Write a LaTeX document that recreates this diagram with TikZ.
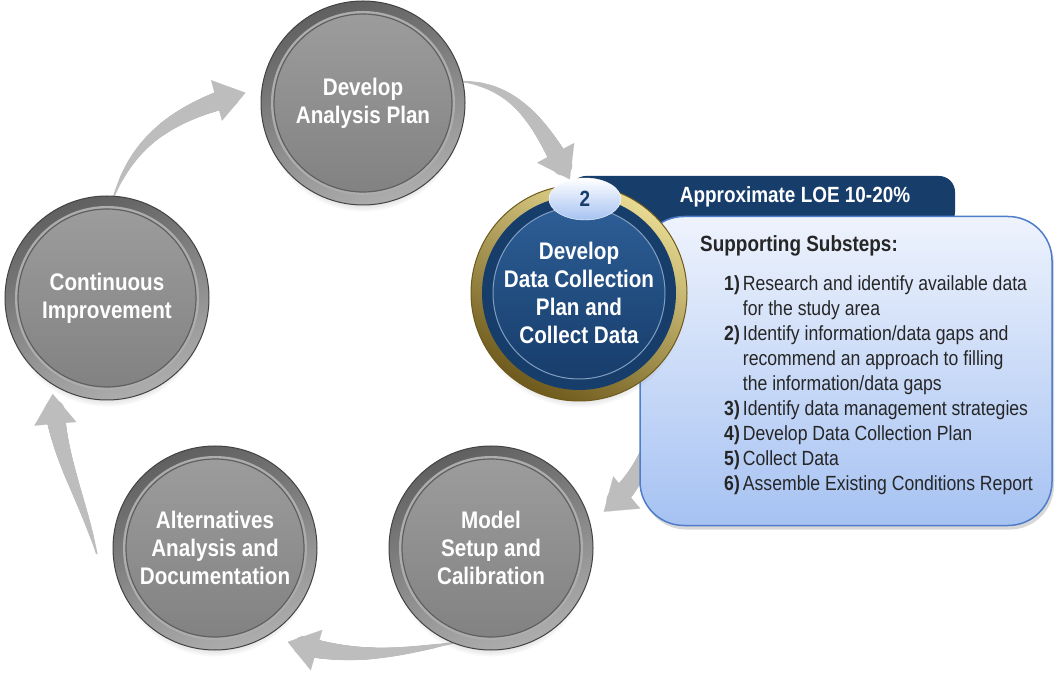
\documentclass[tikz,border=0pt]{standalone}
\usepackage{fontspec}
\newfontfamily\narrowsf[FakeStretch=0.86]{Liberation Sans}
\usetikzlibrary{arrows.meta,shadows,fadings,shapes.geometric,decorations.markings,backgrounds}
\definecolor{navy}{HTML}{173D6B}
\definecolor{navylite}{HTML}{2D5E96}
\definecolor{ringdark}{HTML}{606060}
\definecolor{ringlite}{HTML}{ADADAD}
\definecolor{diskhi}{HTML}{9C9C9C}
\definecolor{disklo}{HTML}{828282}
\definecolor{golddark}{HTML}{6E5A1C}
\definecolor{goldlite}{HTML}{E8DA92}
\definecolor{boxtop}{HTML}{EEF3FD}
\definecolor{boxbot}{HTML}{A6C2F2}
\definecolor{boxline}{HTML}{4F7DC9}
\definecolor{arrowgray}{HTML}{BDBDBD}
\tikzset{
  coin/.style={circle,minimum size=204pt,inner sep=0pt,align=center,text=white,
    font=\narrowsf\bfseries\fontsize{24}{28}\selectfont,
    top color=ringdark,bottom color=ringlite,shading angle=20,draw=ringdark!70!black,line width=1pt,
    circular drop shadow={shadow xshift=0pt,shadow yshift=-10pt,opacity=.45,shadow scale=.97},
    path picture={
      \fill[ringlite] (path picture bounding box.center) circle (92pt);
      \shade[top color=diskhi,bottom color=disklo] (path picture bounding box.center) circle (89pt);
      \draw[ringdark,line width=1.2pt] (path picture bounding box.center) circle (89pt);}},
  goldcoin/.style={coin,minimum size=216pt,top color=goldlite,bottom color=golddark,shading angle=-30,draw=golddark,
    path picture={
      \fill[navy] (path picture bounding box.center) circle (97pt);
      \shade[top color=navylite,bottom color=navy] (path picture bounding box.center) circle (86pt);
      \draw[navylite!60!white,line width=1pt] (path picture bounding box.center) circle (86pt);}},
  numoval/.style={ellipse,minimum width=72pt,minimum height=42pt,inner sep=0pt,top color=white,bottom color=boxbot,
    draw=white,text=navy,font=\narrowsf\bfseries\fontsize{22}{22}\selectfont},
  lobox/.style={rounded corners=44pt,top color=boxtop,bottom color=boxbot,draw=boxline,line width=1.5pt,
    minimum width=412pt,minimum height=309pt,drop shadow={shadow xshift=2pt,shadow yshift=-4pt,opacity=.3}},
  taper/.style={draw=arrowgray,line width=.1pt,-{Triangle[width=42pt,length=30pt,fill=arrowgray]},
    postaction={decorate,decoration={markings,
    mark=between positions 0 and .9 step 1pt with {\fill[arrowgray] (0,0) circle
      ({(1+10*\pgfkeysvalueof{/pgf/decoration/mark info/distance from start}/\pgfdecoratedpathlength)*1pt});}}}}
}
\begin{document}
\begin{tikzpicture}[x=1pt,y=1pt,>=latex]
\useasboundingbox (0,0) rectangle (1057,683);
% box with the substeps
\fill[navy,rounded corners=16pt] (570,455) rectangle (955,507);
\node[lobox] (box) at (846,312) {};
\node[font=\narrowsf\bfseries\fontsize{22}{22}\selectfont,text=white] (loe) at (795,486) {Approximate LOE 10-20\%};
\node[anchor=west,font=\narrowsf\bfseries\fontsize{22}{22}\selectfont,text=black!85,inner sep=0pt] (sub) at (700,437) {Supporting Substeps:};
\node[anchor=north west,inner sep=0pt,text=black!85,font=\narrowsf\fontsize{20.5}{25}\selectfont] (steps) at (724,410) {%
\begin{tabular}{@{}r@{\hspace{3pt}}l@{}}
\textbf{1)}&Research and identify available data\\
&for the study area\\
\textbf{2)}&Identify information/data gaps and\\
&recommend an approach to filling\\
&the information/data gaps\\
\textbf{3)}&Identify data management strategies\\
\textbf{4)}&Develop Data Collection Plan\\
\textbf{5)}&Collect Data\\
\textbf{6)}&Assemble Existing Conditions Report
\end{tabular}};
% the five steps
\node[coin] (anal) at (363,580) {Develop\\Analysis Plan};
\node[coin] (cont) at (107,385) {Continuous\\Improvement};
\node[goldcoin] (data) at (579,390) {Develop\\Data Collection\\Plan and\\Collect Data};
\node[coin] (model) at (491,135) {Model\\Setup and\\Calibration};
\node[coin] (alt) at (215,135) {Alternatives\\Analysis and\\Documentation};
\node[numoval] (num) at (585,484) {2};
% cycle arrows
\begin{scope}[on background layer]
\fill[white] (0,0) rectangle (1057,683);
\draw[taper] (cont.86) to[out=70,in=195] ([shift={(-16,-4)}]anal.172);
\draw[taper] (anal.12) to[out=-5,in=118] ([shift={(4,6)}]data.97);
\draw[taper] (data.-35) to[out=-100,in=40] ([shift={(24,-15)}]model.30);
\draw[taper] (model.248) to[out=190,in=-16] ([shift={(11,-12)}]alt.-53);
\draw[taper] ([shift={(-16,0)}]alt.183) to[out=105,in=-85] ([shift={(0,-9)}]cont.238);
\end{scope}
\end{tikzpicture}
\end{document}
